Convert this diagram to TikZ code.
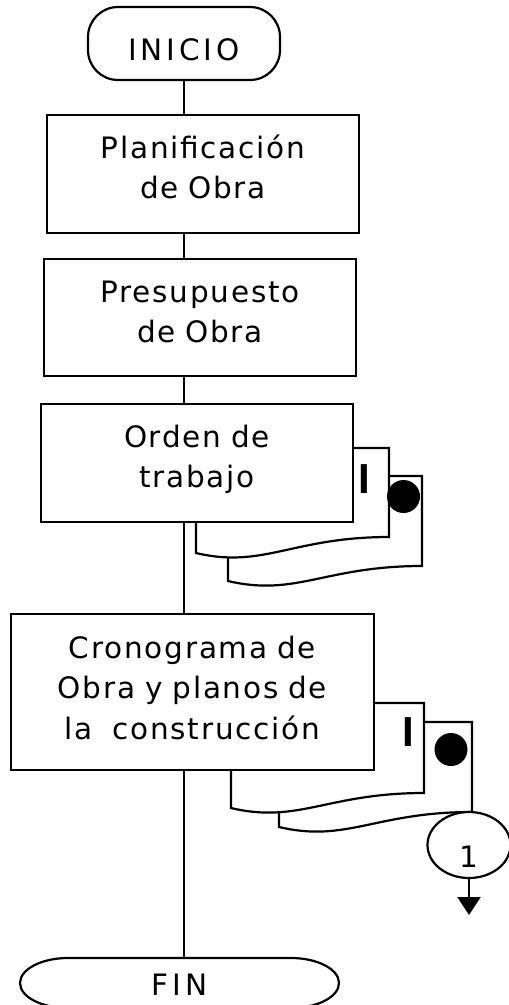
\documentclass[tikz,border=0pt]{standalone}
\usepackage{fontspec}
\setmainfont{DejaVu Sans}
\newfontfamily\boxfont[LetterSpace=6]{DejaVu Sans}
\newfontfamily\capfont[LetterSpace=13]{DejaVu Sans}
\newfontfamily\markfont{Liberation Sans}
\usetikzlibrary{shapes.geometric,arrows.meta}
\begin{document}
\begin{tikzpicture}[x=1pt,y=-1pt,line width=2.2pt,
  proc/.style={draw,fill=white,rectangle,inner sep=0pt,align=center,
    font=\boxfont\fontsize{29.5}{40.5}\selectfont,text height=10pt},
  term/.style={inner sep=0pt,font=\capfont\fontsize{29.5}{40}\selectfont,
    text height=33pt,text depth=0pt},
  doc/.style={draw,fill=white,line join=miter},
  imark/.style={inner sep=0pt,anchor=base,
    font=\markfont\bfseries\fontsize{42}{42}\selectfont},
  blackdot/.style={circle,fill=black,inner sep=0pt,minimum size=33pt},
  conn/.style={draw}]
\useasboundingbox (0,0) rectangle (509,1005);

% start
\node[term,draw,rounded corners=30pt,minimum width=192pt,minimum height=73pt] (ini) at (184,43.5) {INICIO};

% process boxes
\node[proc,minimum width=312pt,minimum height=118pt,text width=300pt,text depth=42pt] (plan) at (203,174) {Planificación\\de Obra};
\node[proc,minimum width=312pt,minimum height=117pt,text width=300pt,text depth=41pt] (pres) at (200,317.5) {Presupuesto\\de Obra};

% documents behind "Orden de trabajo"
\draw[doc] (228,476) -- (422,476) -- (422,566) .. controls (325,566) and (296,597) .. (228,581) -- cycle;
\draw[doc] (196,448) -- (389,448) -- (389,537) .. controls (292.5,537) and (263.5,569) .. (196,553) -- cycle;
\node[proc,minimum width=312pt,minimum height=118pt,text width=300pt,text depth=42pt] (orden) at (197,463) {Orden de\\trabajo};
\node[imark] (i1) at (364,493) {I};
\node[blackdot] (d1) at (403.5,496.5) {};

% documents behind "Cronograma"
\draw[doc] (279,722) -- (472,722) -- (472,812) .. controls (375.5,812) and (346.5,843) .. (279,827) -- cycle;
\draw[doc] (231,703) -- (424,703) -- (424,793) .. controls (327.5,793) and (298.5,824) .. (231,808) -- cycle;
\node[proc,minimum width=363pt,minimum height=156pt,text width=350pt,text depth=78pt] (crono) at (192.5,692) {Cronograma de\\Obra y planos de\\la \ construcción};
\node[imark] (i2) at (408,746) {I};
\node[blackdot] (d2) at (451,749.5) {};

% off-page connector
\node[ellipse,draw,fill=white,inner sep=0pt,minimum width=83pt,minimum height=66pt,
  font=\fontsize{29.5}{40}\selectfont,text height=44pt,text depth=0pt] (c1) at (469,845) {1};
\coordinate (tip) at (469,915);
\draw[-{Triangle[width=23pt,length=18pt]}] (c1.south) -- (tip);

% end
\node[term,text height=24pt,minimum width=319pt,minimum height=50pt] (fin) at (179.5,983) {FIN};
\draw (68,958) -- (291,958) .. controls (317.5,958) and (339,969.2) .. (339,983)
  .. controls (339,996.8) and (317.5,1008) .. (291,1008) -- (68,1008)
  .. controls (41.5,1008) and (20,996.8) .. (20,983)
  .. controls (20,969.2) and (41.5,958) .. (68,958) -- cycle;

% flow lines
\draw[conn] (ini.south) -- (ini.south |- plan.north);
\draw[conn] (ini.south |- plan.south) -- (ini.south |- pres.north);
\draw[conn] (ini.south |- pres.south) -- (ini.south |- orden.north);
\draw[conn] (ini.south |- orden.south) -- (ini.south |- crono.north);
\draw[conn] (ini.south |- crono.south) -- (ini.south |- fin.north);
\end{tikzpicture}
\end{document}
